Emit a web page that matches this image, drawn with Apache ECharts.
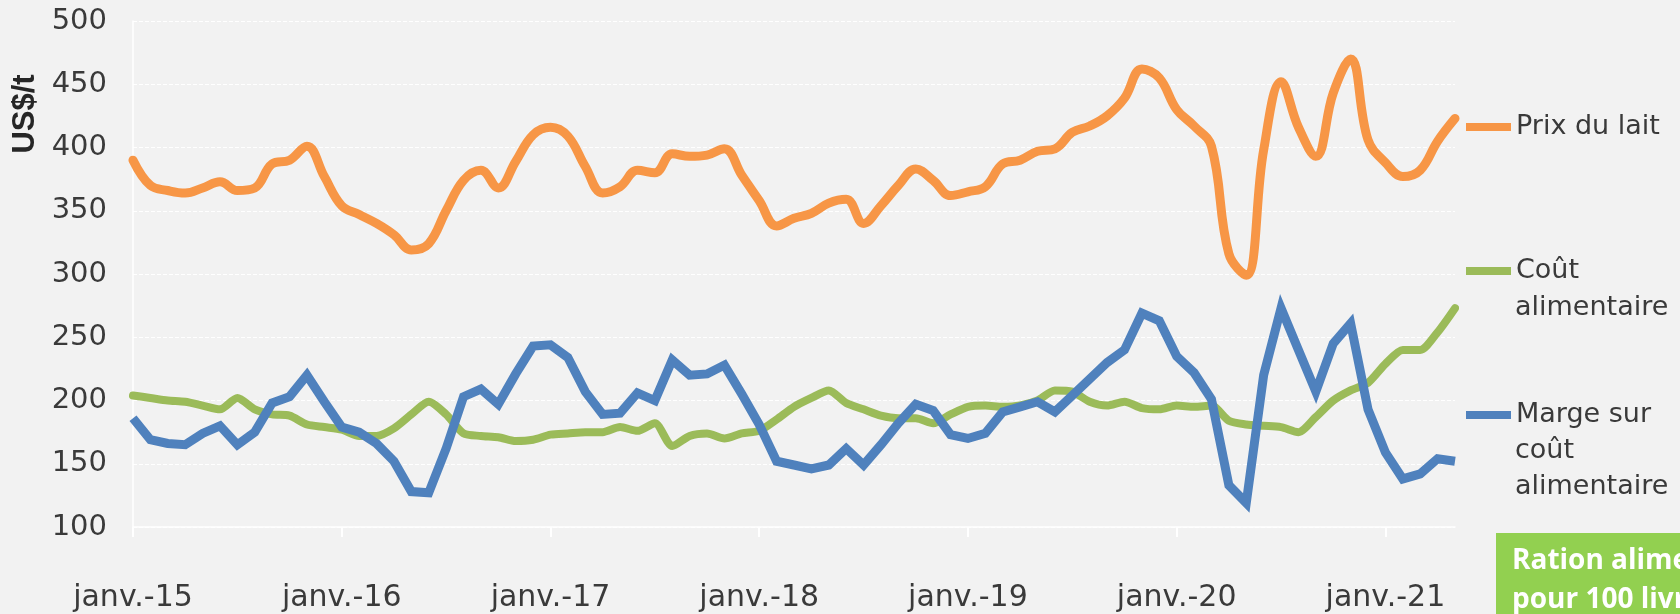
<!DOCTYPE html>
<html>
<head>
<meta charset="utf-8">
<script src="https://cdn.jsdelivr.net/npm/echarts@6/dist/echarts.min.js"></script>
<style>
  html, body { margin: 0; padding: 0; background: #f2f2f2; }
  #main { width: 1680px; height: 614px; }
</style>
</head>
<body>
<div id="main"></div>
<script>
// mois et années de l'axe
var moisNoms = ['janv.', 'févr.', 'mars', 'avr.', 'mai', 'juin', 'juil.', 'août', 'sept.', 'oct.', 'nov.', 'déc.'];
var annees = ['15', '16', '17', '18', '19', '20', '21'];
var nbMois = 77; // janv.-15 -> mai-21

var categories = [];
for (var i = 0; i < nbMois; i++) {
	categories.push(moisNoms[i % 12] + '-' + annees[Math.floor(i / 12)]);
}

// US$/t
var prixLait = [
	390, 370, 366, 364, 368, 373, 366, 368, 387, 390, 401, 377,
	354, 347, 340, 331, 319, 324, 350, 374, 382, 368, 389, 410,
	416, 409, 385, 364, 369, 382, 380, 395, 393, 394, 399, 378,
	358, 338, 344, 348, 356, 359, 340, 354, 370, 383, 374, 362,
	365, 369, 387, 390, 397, 399, 412, 417, 425, 439, 462, 455,
	430, 417, 401, 316, 299, 398, 452, 416, 393, 443, 470, 406,
	388, 377, 382, 405, 423
];
var coutAlim = [
	204, 202, 200, 199, 196, 193, 202, 193, 189, 188, 181, 179,
	177, 172, 172, 178, 189, 199, 189, 174, 172, 171, 168, 169,
	173, 174, 175, 175, 179, 176, 182, 164, 172, 174, 170, 174,
	176, 185, 195, 202, 208, 198, 193, 188, 186, 186, 182, 189,
	195, 196, 195, 196, 200, 208, 207, 199, 196, 199, 194, 193,
	196, 195, 196, 184, 181, 180, 179, 175, 187, 200, 208, 214,
	229, 240, 240, 254, 273
];
var marge = [
	186, 169, 166, 165, 174, 180, 165, 175, 198, 203, 220, 199,
	179, 175, 166, 152, 128, 127, 162, 203, 209, 197, 221, 243,
	244, 234, 207, 189, 190, 206, 200, 232, 220, 221, 228, 205,
	181, 152, 149, 146, 149, 162, 149, 165, 182, 197, 192, 173,
	170, 174, 191, 195, 199, 191, 204, 217, 230, 240, 269, 263,
	235, 222, 201, 133, 119, 220, 273, 240, 207, 245, 261, 193,
	159, 138, 142, 154, 152
];

var couleurs = ['#f79646', '#9bbb59', '#4f81bd'];
var police = '"DejaVu Sans", sans-serif';
var texteCouleur = '#3a3a3a';

// une légende par série : seule la première ligne du nom suit l'icône
var legende = function(nom, centre) {
	return {
		data: [nom],
		orient: 'vertical',
		left: 1466,
		top: centre - 18.5,
		padding: 0,
		icon: 'rect',
		itemWidth: 45,
		itemHeight: 8,
		selectedMode: false,
		formatter: function(n) { return n.split('|')[0]; },
		textStyle: { fontFamily: police, fontSize: 27, lineHeight: 37, color: texteCouleur }
	};
};
var suiteLegende = function(texte, x, y) {
	return {
		type: 'text', x: x, y: y,
		style: {
			text: texte, font: '27px ' + police, lineHeight: 36,
			fill: texteCouleur, align: 'left', verticalAlign: 'middle'
		}
	};
};

var chart = echarts.init(document.getElementById('main'));
var option = {
	backgroundColor: '#f2f2f2',
	animation: false,
	color: couleurs,
	grid: { left: 133, right: 225, top: 21, bottom: 87 },
	legend: [
		legende('Prix du lait', 127),
		legende('Coût|alimentaire', 271),
		legende('Marge sur|coût alimentaire', 415)
	],
	xAxis: {
		type: 'category',
		boundaryGap: false,
		data: categories,
		axisLine: { lineStyle: { color: '#ffffff', width: 1.5 } },
		axisTick: { show: true, interval: 11, length: 10, lineStyle: { color: '#ffffff', width: 2 } },
		axisLabel: { interval: 11, margin: 56, fontFamily: police, fontSize: 30, color: texteCouleur },
		splitLine: { show: false }
	},
	yAxis: {
		type: 'value',
		min: 100,
		max: 500,
		interval: 50,
		axisLine: { show: true, lineStyle: { color: '#ffffff', width: 1.5 } },
		axisTick: { show: false },
		axisLabel: { margin: 26, fontFamily: police, fontSize: 29, color: texteCouleur },
		splitLine: { lineStyle: { color: '#ffffff', width: 1, type: [4, 2] } }
	},
	graphic: [
		{
			type: 'text',
			x: 25, y: 114,
			rotation: Math.PI / 2,
			style: {
				text: 'US$/t',
				font: 'bold 31px "Liberation Sans", sans-serif',
				fill: '#262626',
				align: 'center',
				verticalAlign: 'middle'
			}
		},
		suiteLegende('alimentaire', 1515, 308),
		suiteLegende('coût\nalimentaire', 1515, 469),
		{
			type: 'rect',
			shape: { x: 1496, y: 533, width: 200, height: 100 },
			style: { fill: '#92d050' }
		},
		{
			type: 'text',
			x: 1512, y: 581,
			style: {
				text: 'Ration alimentaire\npour 100 livres',
				font: 'bold 28px "Open Sans", sans-serif',
				lineHeight: 39,
				fill: '#ffffff',
				align: 'left',
				verticalAlign: 'middle'
			}
		}
	],
	series: [
		{
			name: 'Prix du lait',
			type: 'line',
			data: prixLait,
			smooth: 0.4,
			showSymbol: false,
			lineStyle: { width: 9, cap: 'round', join: 'round' }
		},
		{
			name: 'Coût|alimentaire',
			type: 'line',
			data: coutAlim,
			smooth: 0.25,
			showSymbol: false,
			lineStyle: { width: 8, cap: 'round', join: 'round' }
		},
		{
			name: 'Marge sur|coût alimentaire',
			type: 'line',
			data: marge,
			showSymbol: false,
			lineStyle: { width: 9, cap: 'butt', join: 'miter' }
		}
	]
};
chart.setOption(option);
</script>
</body>
</html>
